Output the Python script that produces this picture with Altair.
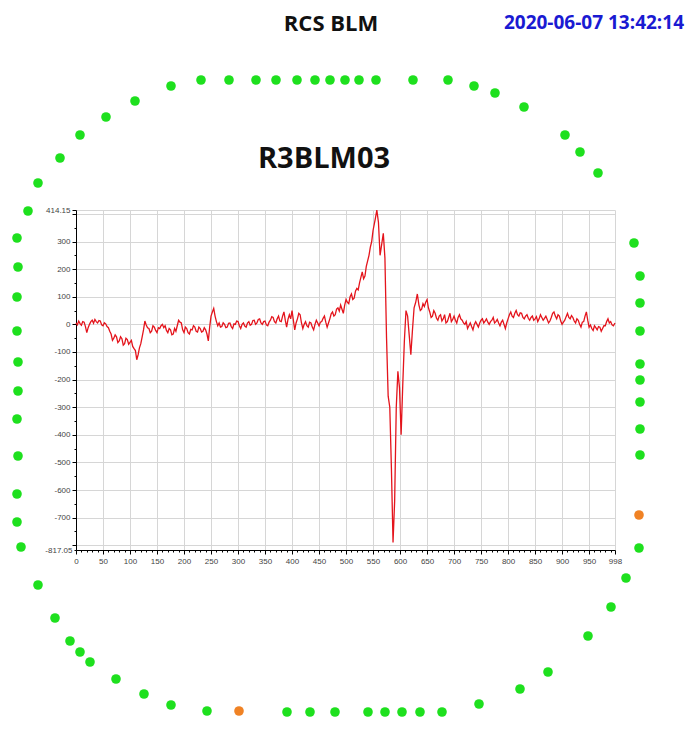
import altair as alt
import pandas as pd

# ---- signal trace of R3BLM03: [sample index, reading] ----
trace_pre = [
    [0, 5], [2.5, -2], [5, 12], [7.5, 3], [10, -3], [12.5, 10], [15, 8], [17.5, -8], [20, -30], [22.5, -12],
    [25, 0], [27.5, 10], [30, 15], [32.5, 4], [35, 18], [37.5, 10], [40, 5], [42.5, 14], [45, 12], [47.5, -2],
    [50, -5], [52.5, 6], [55, 2], [57.5, -8], [60, -12], [62.5, -25], [65, -35], [67.5, -58], [70, -50], [72.5, -38],
    [75, -45], [77.5, -66], [80, -60], [82.5, -45], [85, -52], [87.5, -75], [90, -70], [92.5, -50], [95, -55], [97.5, -72],
    [100, -65], [102.5, -58], [105, -80], [107.5, -88], [110, -95], [112.5, -128], [115, -110], [117.5, -85], [120, -70], [122.5, -45],
    [125, -20], [127.5, 12], [130, -2], [132.5, -12], [135, -15], [137.5, -30], [140, -25], [142.5, -5], [145, -10], [147.5, -22],
    [150, -30], [152.5, -12], [155, -15], [157.5, -5], [160, 0], [162.5, -12], [165, -5], [167.5, -22], [170, -30], [172.5, -15],
    [175, -20], [177.5, -38], [180, -35], [182.5, -15], [185, -25], [187.5, -5], [190, 15], [192.5, 8], [195, 5], [197.5, -20],
    [200, -30], [202.5, -10], [205, -15], [207.5, -30], [210, -35], [212.5, -18], [215, -20], [217.5, -5], [220, -10], [222.5, -25],
    [225, -28], [227.5, -10], [230, -15], [232.5, -28], [235, -25], [237.5, -12], [240, -20], [242.5, -35], [245, -60], [247.5, -10],
    [250, 30], [252.5, 45], [255, 58], [257.5, 30], [260, 10], [262.5, -5], [265, 5], [267.5, -10], [270, -8], [272.5, 6],
    [275, 0], [277.5, -12], [280, -10], [282.5, 4], [285, 5], [287.5, -8], [290, -15], [292.5, 2], [295, 0], [297.5, 12],
    [300, 10], [302.5, -5], [305, -15], [307.5, 0], [310, 5], [312.5, -6], [315, -10], [317.5, 5], [320, 10], [322.5, -3],
    [325, 0], [327.5, 14], [330, 15], [332.5, 0], [335, 5], [337.5, 18], [340, 20], [342.5, 5], [345, 0], [347.5, 10],
    [350, 12], [352.5, -2], [355, -5], [357.5, 8], [360, 15], [362.5, 28], [365, 25], [367.5, 10], [370, 5], [372.5, 20],
    [375, 30], [377.5, 12], [380, 10], [382.5, 30], [385, 45], [387.5, 15], [390, -10], [392.5, 18], [395, 35], [397.5, 20],
    [400, 50], [402.5, 15], [405, -20], [407.5, 5], [410, 20], [412.5, 40], [415, 35], [417.5, 5], [420, -15], [422.5, 0],
    [425, 10], [427.5, -5], [430, -10], [432.5, 8], [435, 5], [437.5, -10], [440, -20], [442.5, 0], [445, 15], [447.5, 5],
    [450, -5], [452.5, 8], [455, 10], [457.5, 22], [460, 30], [462.5, 8], [465, -10], [467.5, 5], [470, 20], [472.5, 38],
    [475, 45], [477.5, 30], [480, 35], [482.5, 55], [485, 60], [487.5, 48], [490, 70], [492.5, 55], [495, 40], [497.5, 70],
    [500, 90], [502.5, 80], [505, 75], [507.5, 100], [510, 110], [512.5, 90], [515, 95], [517.5, 120], [520, 130], [522.5, 125],
    [525, 150], [527.5, 170], [530, 190], [532.5, 165], [535, 175], [537.5, 210], [540, 230], [542.5, 250], [545, 280], [547.5, 300],
    [550, 340],
]
trace_spike = [
    [554, 380], [557, 414], [560, 370], [563, 250], [566, 290], [569, 330], [572, 240], [575, -50], [578, -260], [581, -300],
    [584, -520], [587, -790], [590, -640], [593, -300], [596, -170], [599, -230], [602, -400], [605, -220], [608, -60], [611, 50],
    [614, 30], [617, -40], [620, -110], [623, -20], [626, 60], [629, 80], [632, 110],
]
trace_post = [
    [635, 70], [637.5, 50], [640, 55], [642.5, 75], [645, 65], [647.5, 80], [650, 90], [652.5, 60], [655, 45], [657.5, 25],
    [660, 30], [662.5, 50], [665, 40], [667.5, 22], [670, 15], [672.5, 30], [675, 35], [677.5, 12], [680, 20], [682.5, 35],
    [685, 5], [687.5, 10], [690, 25], [692.5, 40], [695, 10], [697.5, 18], [700, 30], [702.5, 15], [705, 5], [707.5, 25],
    [710, 35], [712.5, 20], [715, 15], [717.5, 5], [720, 0], [722.5, 10], [725, -15], [727.5, -5], [730, 5], [732.5, -8],
    [735, -20], [737.5, 0], [740, 10], [742.5, 0], [745, -10], [747.5, 5], [750, 15], [752.5, 20], [755, 5], [757.5, 12],
    [760, 20], [762.5, 8], [765, 0], [767.5, 10], [770, 15], [772.5, 25], [775, 5], [777.5, 10], [780, 18], [782.5, 5],
    [785, -5], [787.5, 8], [790, 15], [792.5, 0], [795, -15], [797.5, 5], [800, 20], [802.5, 35], [805, 45], [807.5, 30],
    [810, 25], [812.5, 40], [815, 50], [817.5, 35], [820, 30], [822.5, 42], [825, 40], [827.5, 25], [830, 20], [832.5, 30],
    [835, 35], [837.5, 22], [840, 15], [842.5, 25], [845, 30], [847.5, 15], [850, 20], [852.5, 28], [855, 10], [857.5, 20],
    [860, 35], [862.5, 25], [865, 15], [867.5, 22], [870, 30], [872.5, 18], [875, 5], [877.5, 12], [880, 25], [882.5, 40],
    [885, 45], [887.5, 30], [890, 20], [892.5, 35], [895, 30], [897.5, 12], [900, 0], [902.5, 8], [905, 15], [907.5, 28],
    [910, 40], [912.5, 25], [915, 20], [917.5, 32], [920, 25], [922.5, 12], [925, 5], [927.5, 20], [930, 15], [932.5, 0],
    [935, -10], [937.5, 8], [940, 10], [942.5, 30], [945, 45], [947.5, 15], [950, -10], [952.5, -2], [955, -15], [957.5, -22],
    [960, -5], [962.5, -12], [965, -20], [967.5, -8], [970, -10], [972.5, -25], [975, -15], [977.5, -5], [980, -5], [982.5, 10],
    [985, 20], [987.5, 5], [990, 10], [992.5, -2], [995, -5], [998, 5],
]

# ---- monitor ring layout (schematic frame) and status ----
ring_x = [171, 201, 229, 256, 276, 297, 315, 330, 345, 359, 376, 413, 448, 474, 495, 524,
          135, 106, 80, 60, 38, 28,
          17, 18, 17, 17, 18, 18, 17, 18, 17, 17, 21,
          38, 55, 70, 80, 90, 116, 144, 171, 207, 239,
          287, 310, 335, 368, 385, 402, 420, 442, 479,
          520, 548, 588, 611, 626, 639,
          639, 640, 640, 640, 640, 640, 640, 640, 640, 634,
          565, 580, 598]
ring_y = [86, 80, 80, 80, 80, 80, 80, 80, 80, 80, 80, 80, 80, 86, 93, 107,
          101, 117, 135, 158, 183, 211,
          238, 267, 297, 331, 362, 391, 419, 456, 494, 522, 547,
          585, 618, 641, 652, 662, 679, 694, 705, 711, 711,
          712, 712, 712, 712, 712, 712, 712, 712, 704,
          689, 672, 636, 607, 578, 548,
          515, 455, 429, 402, 380, 364, 331, 303, 276, 243,
          135, 152, 173]
ring_status = ["ok"] * len(ring_x)
ring_status[42] = "alarm"   # bottom orange
ring_status[58] = "alarm"   # right orange

# ---- texts ----
txt_label = ["RCS BLM", "2020-06-07 13:42:14", "R3BLM03"]
txt_x = [331, 684, 324]
txt_y = [24, 23, 159]
txt_kind = ["head", "time", "name"]
txt_align = ["center", "right", "center"]

x_ticks = list(range(0, 1000, 10)) + [998]
y_ticks = [414.15] + list(range(400, -801, -50)) + [-817.05]

pts = trace_pre + trace_spike + trace_post
sig = pd.DataFrame({"idx": [p[0] for p in pts], "val": [p[1] for p in pts]})
ring = pd.DataFrame({"rx": ring_x, "ry": ring_y, "status": ring_status})
txt = pd.DataFrame({"label": txt_label, "tx": txt_x, "ty": txt_y, "kind": txt_kind, "al": txt_align})

ring_xs = alt.Scale(domain=[76, 615])
ring_ys = alt.Scale(domain=[210, 550], reverse=True)

dots = alt.Chart(ring).mark_circle(size=92, opacity=1).encode(
    x=alt.X("rx:Q", scale=ring_xs, axis=None),
    y=alt.Y("ry:Q", scale=ring_ys, axis=None),
    color=alt.Color("status:N", scale=alt.Scale(domain=["ok", "alarm"], range=["#1ee01e", "#f08224"]), legend=None),
)

kinds = ["head", "time", "name"]
text_layers = []
for kind, size, col in zip(kinds, [22, 19, 29], ["#111111", "#1a1ad2", "#111111"]):
    sub = txt[txt["kind"] == kind]
    text_layers.append(
        alt.Chart(sub).mark_text(font="Open Sans", fontWeight="bold", baseline="middle",
                                 align=sub["al"].iloc[0], fontSize=size, color=col).encode(
            x=alt.X("tx:Q", scale=ring_xs, axis=None),
            y=alt.Y("ty:Q", scale=ring_ys, axis=None),
            text="label:N",
        )
    )

x_lab = "datum.value % 50 === 0 || datum.value === 998 ? '' + datum.value : ''"
y_lab = ("(datum.value % 100 === 0 && datum.value !== 400 && datum.value !== -800) || "
         "datum.value === 414.15 || datum.value === -817.05 ? '' + datum.value : ''")

line = alt.Chart(sig).mark_line(color="#e4141c", strokeWidth=1.3).encode(
    x=alt.X("idx:Q", title=None,
            scale=alt.Scale(domain=[0, 998], nice=False, zero=False),
            axis=alt.Axis(values=x_ticks, labelExpr=x_lab, labelOverlap=False, labelFlush=False,
                          labelFont="Liberation Sans", labelFontSize=8, labelColor="#444444", labelPadding=3,
                          domainColor="#000000", tickColor="#000000",
                          tickSize={"condition": {"test": "datum.value % 50 === 0 || datum.value === 998", "value": 4}, "value": 2},
                          grid=True, gridColor="#d6d6d6",
                          gridOpacity={"condition": {"test": "datum.value % 50 === 0 || datum.value === 998", "value": 1}, "value": 0})),
    y=alt.Y("val:Q", title=None,
            scale=alt.Scale(domain=[-817.05, 414.15], nice=False, zero=False),
            axis=alt.Axis(values=y_ticks, labelExpr=y_lab, labelOverlap=False,
                          labelFont="Liberation Sans", labelFontSize=8, labelColor="#444444", labelPadding=2,
                          domainColor="#000000", tickColor="#000000",
                          tickSize={"condition": {"test": "datum.value % 100 === 0 || datum.value === 414.15", "value": 4}, "value": 2},
                          grid=True, gridColor="#d6d6d6",
                          gridOpacity={"condition": {"test": "datum.value % 100 === 0 || datum.value === 414.15", "value": 1}, "value": 0})),
)

chart = alt.layer(line, dots, *text_layers).resolve_scale(
    x="independent", y="independent", color="independent"
).properties(
    width=539, height=340,
    padding={"left": 68, "top": 202, "right": 70, "bottom": 176},
    autosize=alt.AutoSizeParams(type="none"),
    background="#ffffff",
).configure_view(stroke=None)

chart.save("out.html", embed_options={"renderer": "svg", "actions": False})
